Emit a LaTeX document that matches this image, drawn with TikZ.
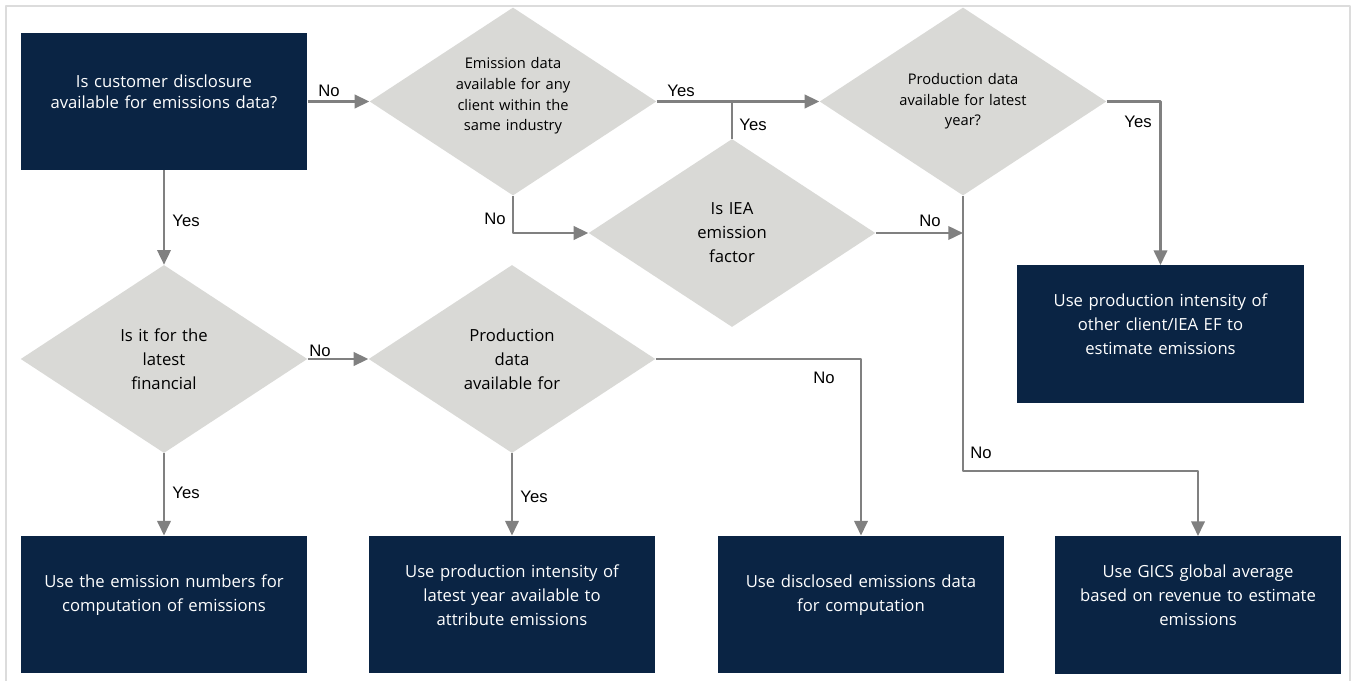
\documentclass[tikz,border=0pt]{standalone}
\usepackage{fontspec}
\setmainfont{Open Sans}
\newfontfamily\labelfont{Liberation Sans}
\usetikzlibrary{shapes.geometric,arrows.meta}
\definecolor{navy}{HTML}{0A2444}
\definecolor{stone}{HTML}{D9D9D6}
\definecolor{wire}{HTML}{808080}
\definecolor{rim}{HTML}{DCDCDC}
\tikzset{
  outcome/.style={rectangle,fill=navy,text=white,minimum width=215pt,minimum height=103pt,inner sep=0pt,
    text width=200pt,align=center,font=\fontsize{12.5pt}{18pt}\selectfont,
    execute at end node={\par\vspace{14pt}}},
  query/.style={diamond,fill=stone,shape aspect=1.53,minimum width=215pt,minimum height=141pt,inner sep=0pt,
    text width=80pt,align=center,font=\fontsize{12.5pt}{18pt}\selectfont},
  smallquery/.style={query,text width=100pt,font=\fontsize{11pt}{15.5pt}\selectfont},
  answer/.style={anchor=base,inner sep=0pt,font=\labelfont\fontsize{12.5pt}{15pt}\selectfont},
  flow/.style={draw=wire,line width=1.9pt}
}
\begin{document}
\begin{tikzpicture}[>={Triangle[length=11pt,width=10pt]},line join=bevel,x=0.75pt,y=-0.75pt]
%%
\useasboundingbox (0,0) rectangle (1354,681);
\draw [rim,line width=1.5pt] (6,681) -- (6,6) -- (1350,6) -- (1350,681);
%
  \node (node_disclosure) at (164,101.5) [outcome,font=\fontsize{12.5pt}{15.75pt}\selectfont] {Is customer disclosure\\available for emissions data?};
  \node (node_industry) at (513,101.5) [smallquery,execute at end node={\par\vspace{8pt}}] {Emission data\\available for any\\client within the\\same industry};
  \node (node_prodlatest) at (963,101.5) [smallquery] {Production data\\available for latest\\year?};
  \node (node_iea) at (732,233) [query] {Is IEA\\emission\\factor};
  \node (node_financial) at (164,359) [query] {Is it for the\\latest\\financial};
  \node (node_proddata) at (512,359) [query] {Production\\data\\available for};
  \node (node_other) at (1160.5,334) [outcome] {Use production intensity of\\other client/IEA EF to\\estimate emissions};
  \node (node_numbers) at (164,604.5) [outcome] {Use the emission numbers for\\computation of emissions};
  \node (node_latestyear) at (512,604.5) [outcome] {Use production intensity of\\latest year available to\\attribute emissions};
  \node (node_disclosed) at (861,604.5) [outcome] {Use disclosed emissions data\\for computation};
  \node (node_gics) at (1198,605) [outcome] {Use GICS global average\\based on revenue to estimate\\emissions};
  \coordinate (bend_gics) at (963,471);
%
  \draw [flow,->] (node_disclosure.east) -- (node_industry.west);
  \draw [flow,->] (node_disclosure.south) -- (node_financial.north);
  \draw [flow,->] (node_industry.east) -- (node_prodlatest.west);
  \draw [flow] (node_iea.north) -- (node_iea.north |- node_industry.east);
  \draw [flow,->] (node_industry.south) |- (node_iea.west);
  \draw [flow,->] (node_iea.east) -- (node_iea.east -| node_prodlatest.south);
  \draw [flow,->] (node_prodlatest.south) -- (bend_gics) -| (node_gics.north);
  \draw [flow,->] (node_prodlatest.east) -| (node_other.north);
  \draw [flow,->] (node_financial.south) -- (node_numbers.north);
  \draw [flow,->] (node_financial.east) -- (node_proddata.west);
  \draw [flow,->] (node_proddata.south) -- (node_latestyear.north);
  \draw [flow,->] (node_proddata.east) -| (node_disclosed.north);
%
  \node (lbl_no_0) at (329,97) [answer] {No};
  \node (lbl_yes_0) at (186,227) [answer] {Yes};
  \node (lbl_yes_1) at (681,97) [answer] {Yes};
  \node (lbl_yes_2) at (753,131) [answer] {Yes};
  \node (lbl_no_1) at (495,225) [answer] {No};
  \node (lbl_no_2) at (930,227) [answer] {No};
  \node (lbl_yes_3) at (1138,128) [answer] {Yes};
  \node (lbl_yes_4) at (186,498) [answer] {Yes};
  \node (lbl_no_3) at (320,356) [answer] {No};
  \node (lbl_yes_5) at (534,502) [answer] {Yes};
  \node (lbl_no_4) at (824,383) [answer] {No};
  \node (lbl_no_5) at (981,458) [answer] {No};
%
\end{tikzpicture}
\end{document}
